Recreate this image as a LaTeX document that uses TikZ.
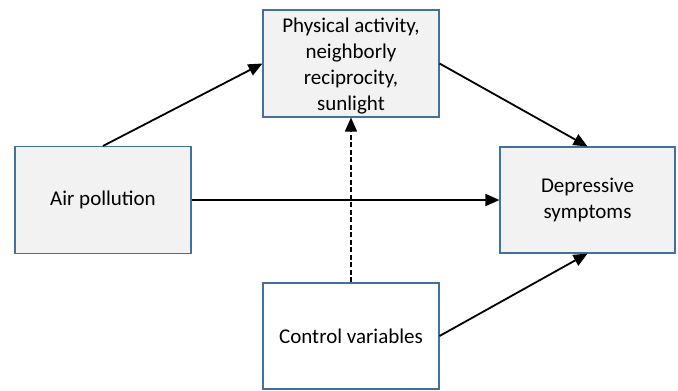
\documentclass[tikz,border=0pt]{standalone}
\usepackage{fontspec}
\setmainfont{Carlito}
\usetikzlibrary{arrows.meta}
\definecolor{boxborder}{HTML}{41719C}
\definecolor{boxfill}{HTML}{F2F2F2}
\begin{document}
\begin{tikzpicture}[x=1pt,y=-1pt,
  box/.style={draw=boxborder, line width=1.1pt, fill=boxfill, minimum width=176pt, minimum height=107pt, inner sep=0pt, align=center, font=\fontsize{21pt}{25.8pt}\selectfont},
  wbox/.style={box, fill=white},
  conn/.style={line width=1.8pt, -{Triangle[length=14pt,width=12pt]}},
  dconn/.style={line width=1.5pt, dash pattern=on 5pt off 2.5pt, -{Triangle[length=14pt,width=12pt]}}]
\useasboundingbox (0,0) rectangle (678,391);
\node[box] (med) at (351,63.5) {\rule{0pt}{20pt}Physical activity,\\neighborly\\reciprocity,\\sunlight};
\node[box] (air) at (103,200) {Air pollution};
\node[box, minimum width=175pt, minimum height=106pt] (dep) at (587.5,200) {Depressive\\symptoms};
\node[wbox, minimum height=106pt] (ctrl) at (351,336) {Control variables};
\draw[conn] (air.north) -- (med.west);
\draw[conn] (med.east) -- (dep.north);
\draw[conn] (air.east) -- (dep.west);
\draw[conn] (ctrl.east) -- (dep.south);
\draw[dconn] (ctrl.north) -- (med.south);
\end{tikzpicture}
\end{document}
